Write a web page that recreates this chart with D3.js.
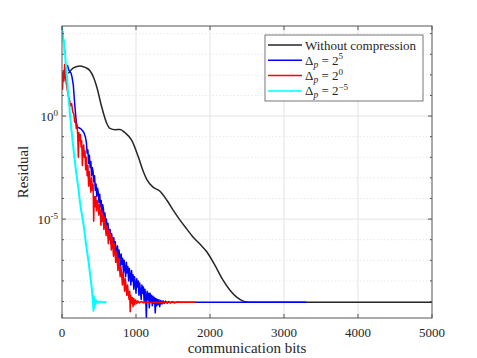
<!DOCTYPE html>
<html>
<head>
<meta charset="utf-8">
<script src="https://cdn.jsdelivr.net/npm/d3@7"></script>
<style>
  body { margin: 0; background: #fff; }
  text { font-family: "Liberation Serif", "DejaVu Serif", serif; fill: #262626; }
</style>
</head>
<body>
<script>
// data: communication bits and log10(residual)
var blackX = [85, 160, 243, 320, 378, 430, 469, 536, 604, 648, 720, 784, 850, 941, 1031, 1100, 1149, 1230, 1324, 1420, 1500, 1595, 1690, 1770, 1860, 1959, 2060, 2176, 2270, 2365, 2450, 2541, 2650, 5000];
var blackLog = [2.07, 2.35, 2.43, 2.35, 2.2, 1.85, 1.42, 0.45, -0.35, -0.6, -0.66, -0.65, -0.8, -1.17, -1.98, -2.7, -3.1, -3.45, -3.65, -4.1, -4.55, -5.05, -5.5, -5.87, -6.2, -6.6, -7.2, -7.96, -8.45, -8.8, -8.98, -9.03, -9.04, -9.04];

var blueX = [0, 15, 30, 45, 60, 75, 90, 105, 120, 135, 153, 165, 176, 188, 198, 215, 235, 255, 275, 295, 315, 330, 340, 350, 360, 370, 380, 390, 400, 410, 420, 430, 440, 450, 460, 470, 480, 490, 500, 510, 520, 530, 540, 550, 560, 570, 580, 590, 600, 610, 620, 630, 640, 650, 660, 670, 680, 690, 700, 710, 720, 730, 740, 750, 760, 770, 780, 790, 800, 810, 820, 830, 840, 850, 860, 870, 880, 890, 900, 910, 920, 930, 940, 950, 960, 970, 980, 990, 1000, 1010, 1020, 1030, 1040, 1050, 1060, 1070, 1080, 1090, 1100, 1110, 1120, 1130, 1140, 1150, 1160, 1170, 1180, 1190, 1200, 1210, 1220, 1230, 1240, 1250, 1260, 1270, 1280, 1290, 1300, 1310, 1320, 1335, 1350, 1365, 1380, 1400, 1420, 1440, 1465, 1490, 1520, 1560, 1600, 3300];
var blueLog = [1.95, 2.1, 2.0, 2.2, 2.4, 2.45, 2.25, 2.15, 2.1, 1.9, 1.5, 0.9, 0.4, -0.1, -0.45, -0.55, -0.58, -0.62, -0.7, -0.8, -1.0, -1.3, -1.8, -1.65, -2.3, -1.9, -2.5, -2.2, -2.9, -2.5, -2.7, -3.2, -2.9, -3.6, -3.3, -3.9, -3.5, -3.7, -4.2, -3.8, -4.4, -4.1, -4.7, -4.3, -4.5, -5.1, -4.7, -5.3, -5.0, -5.6, -5.2, -5.5, -5.9, -5.5, -6.2, -5.7, -6.0, -6.4, -5.9, -6.6, -6.1, -6.5, -6.9, -6.3, -7.0, -6.5, -6.8, -7.3, -6.7, -7.2, -6.9, -7.6, -7.0, -7.4, -7.8, -7.1, -7.6, -7.3, -8.0, -7.4, -7.7, -8.2, -7.5, -8.0, -7.7, -8.4, -7.8, -8.1, -8.6, -7.9, -8.3, -8.0, -8.7, -8.1, -8.5, -8.9, -8.2, -8.6, -8.3, -9.0, -8.4, -8.7, -9.8, -8.5, -8.9, -8.6, -9.3, -8.6, -9.0, -8.7, -9.2, -8.75, -9.1, -8.8, -9.55, -8.85, -9.2, -8.9, -9.15, -8.92, -9.25, -8.95, -9.12, -8.96, -9.1, -8.98, -9.08, -9.0, -9.07, -9.01, -9.06, -9.02, -9.04, -9.04];

var redX = [0, 8, 16, 26, 36, 46, 58, 70, 85, 100, 115, 130, 145, 160, 172, 182, 192, 202, 212, 221, 228, 238, 248, 258, 266, 275, 284, 293, 302, 311, 320, 330, 340, 350, 360, 370, 380, 390, 400, 410, 420, 428, 436, 446, 456, 466, 476, 486, 496, 506, 516, 526, 536, 546, 556, 566, 576, 586, 596, 606, 616, 626, 636, 646, 656, 666, 676, 686, 696, 706, 716, 726, 736, 746, 756, 766, 776, 786, 796, 806, 816, 826, 836, 846, 856, 866, 876, 886, 896, 906, 915, 922, 930, 940, 950, 960, 970, 982, 995, 1010, 1025, 1045, 1070, 1100, 1140, 1200, 1800];
var redLog = [2.0, 1.3, 2.2, 1.7, 2.5, 1.9, 1.6, 1.3, 1.0, 0.8, 0.5, 0.6, 0.2, 0.1, -0.3, -0.1, -0.6, -0.4, -0.9, -2.0, -0.8, -1.2, -0.9, -1.5, -1.2, -2.4, -1.6, -1.4, -2.0, -1.7, -2.6, -2.0, -2.9, -2.4, -3.4, -2.7, -3.2, -3.7, -3.0, -3.6, -3.3, -5.1, -3.9, -4.4, -3.9, -4.6, -4.1, -4.3, -4.8, -4.3, -4.6, -5.3, -4.6, -5.1, -4.8, -5.5, -4.9, -5.3, -5.8, -5.3, -5.6, -6.2, -5.5, -6.0, -5.7, -6.5, -5.9, -6.3, -6.8, -6.2, -6.6, -7.1, -6.6, -7.0, -7.5, -6.9, -7.3, -7.8, -7.3, -7.7, -8.2, -7.6, -8.0, -8.5, -7.9, -8.3, -8.7, -8.2, -8.6, -8.9, -8.5, -9.5, -8.7, -9.1, -8.8, -9.25, -8.85, -9.15, -8.92, -9.1, -8.97, -9.07, -9.0, -9.06, -9.02, -9.05, -9.04];

var cyanX = [0, 5, 10, 18, 25, 33, 40, 48, 56, 63, 70, 78, 85, 93, 100, 108, 116, 125, 135, 145, 153, 163, 175, 190, 205, 221, 240, 260, 280, 300, 320, 340, 360, 380, 401, 413, 420, 425, 430, 436, 443, 452, 465, 485, 510, 550, 600];
var cyanLog = [4.4, 3.8, 4.1, 3.6, 3.7, 3.1, 3.2, 2.6, 2.5, 2.0, 1.9, 1.3, 1.1, 0.6, 0.5, 0.0, -0.2, -0.6, -0.9, -1.3, -1.5, -1.9, -2.2, -2.7, -3.1, -3.5, -4.1, -4.6, -5.0, -5.5, -6.1, -6.6, -7.1, -7.7, -8.3, -8.8, -9.1, -9.45, -8.75, -9.3, -8.9, -9.15, -8.95, -9.06, -9.0, -9.03, -9.02];

var seriesNames = ["Without compression", "Δp = 2^5", "Δp = 2^0", "Δp = 2^-5"];
var legendExp = [null, "5", "0", "\u22125"];
var colors = ["#262626", "#0000ff", "#ff0000", "#00ffff"];
var xTicks = [0, 1000, 2000, 3000, 4000, 5000];
var yMajor = [0, -5];

//************************************************************
// layout
//************************************************************
const W = 477, H = 358;
const pLeft = 62, pRight = 432, pTop = 26, pBottom = 318;

const xScale = d3.scaleLinear().domain([0, 5000]).range([pLeft, pRight]);
const yScale = d3.scaleLog().domain([Math.pow(10, -9.8), Math.pow(10, 4.37)]).range([pBottom, pTop]);

const svg = d3.select("body").append("svg")
  .attr("width", W)
  .attr("height", H);

svg.append("defs").append("clipPath")
  .attr("id", "clip")
  .append("rect")
  .attr("x", pLeft).attr("y", pTop)
  .attr("width", pRight - pLeft).attr("height", pBottom - pTop);

// grid
var decades = d3.range(-9, 5);
svg.append("g").selectAll("line")
  .data(decades.filter(function (d) { return yMajor.indexOf(d) < 0; }))
  .enter().append("line")
  .attr("x1", pLeft).attr("x2", pRight)
  .attr("y1", function (d) { return yScale(Math.pow(10, d)); })
  .attr("y2", function (d) { return yScale(Math.pow(10, d)); })
  .attr("stroke", "#dedede").attr("stroke-width", 0.7)
  .attr("stroke-dasharray", "1.5,2");

svg.append("g").selectAll("line")
  .data(yMajor)
  .enter().append("line")
  .attr("x1", pLeft).attr("x2", pRight)
  .attr("y1", function (d) { return yScale(Math.pow(10, d)); })
  .attr("y2", function (d) { return yScale(Math.pow(10, d)); })
  .attr("stroke", "#e3e3e3").attr("stroke-width", 1);

svg.append("g").selectAll("line")
  .data(xTicks.slice(1, -1))
  .enter().append("line")
  .attr("x1", function (d) { return xScale(d); })
  .attr("x2", function (d) { return xScale(d); })
  .attr("y1", pTop).attr("y2", pBottom)
  .attr("stroke", "#e3e3e3").attr("stroke-width", 1);

// series
const line = d3.line()
  .x(function (d) { return xScale(d[0]); })
  .y(function (d) { return yScale(Math.pow(10, d[1])); });

const smoothLine = d3.line()
  .curve(d3.curveMonotoneX)
  .x(function (d) { return xScale(d[0]); })
  .y(function (d) { return yScale(Math.pow(10, d[1])); });

var allSeries = [
  d3.zip(blackX, blackLog),
  d3.zip(blueX, blueLog),
  d3.zip(redX, redLog),
  d3.zip(cyanX, cyanLog)
];

svg.append("g")
  .attr("clip-path", "url(#clip)")
  .selectAll("path")
  .data(allSeries)
  .enter().append("path")
  .attr("d", function (d, i) { return i == 0 ? smoothLine(d) : line(d); })
  .attr("fill", "none")
  .attr("stroke", function (d, i) { return colors[i]; })
  .attr("stroke-width", function (d, i) { return i == 3 ? 2 : 1.5; })
  .attr("stroke-linejoin", "round");

// box + ticks
const axisColor = "#555";
svg.append("rect")
  .attr("x", pLeft).attr("y", pTop)
  .attr("width", pRight - pLeft).attr("height", pBottom - pTop)
  .attr("fill", "none").attr("stroke", axisColor).attr("stroke-width", 1);

var tk = svg.append("g").attr("stroke", axisColor).attr("stroke-width", 1);
xTicks.forEach(function (t) {
  var x = xScale(t);
  tk.append("line").attr("x1", x).attr("x2", x).attr("y1", pBottom).attr("y2", pBottom - 4);
  tk.append("line").attr("x1", x).attr("x2", x).attr("y1", pTop).attr("y2", pTop + 4);
});
decades.forEach(function (d) {
  var y = yScale(Math.pow(10, d));
  var len = yMajor.indexOf(d) >= 0 ? 4 : 2;
  tk.append("line").attr("x1", pLeft).attr("x2", pLeft + len).attr("y1", y).attr("y2", y);
  tk.append("line").attr("x1", pRight).attr("x2", pRight - len).attr("y1", y).attr("y2", y);
});

// tick labels
svg.append("g").selectAll("text")
  .data(xTicks)
  .enter().append("text")
  .attr("x", function (d) { return xScale(d); })
  .attr("y", pBottom + 18.5)
  .attr("text-anchor", "middle")
  .attr("font-size", 13)
  .text(function (d) { return d; });

var yl = svg.append("g").selectAll("text")
  .data(yMajor)
  .enter().append("text")
  .attr("x", pLeft - 4)
  .attr("y", function (d) { return yScale(Math.pow(10, d)) + 5; })
  .attr("text-anchor", "end")
  .attr("font-size", 13);
yl.append("tspan").text("10");
yl.append("tspan")
  .attr("font-size", 9)
  .attr("dy", -5.5)
  .text(function (d) { return d < 0 ? "-" + (-d) : d; });

// axis labels
svg.append("text")
  .attr("x", (pLeft + pRight) / 2)
  .attr("y", 353)
  .attr("text-anchor", "middle")
  .attr("font-size", 15)
  .text("communication bits");

svg.append("text")
  .attr("transform", "translate(28," + ((pTop + pBottom) / 2) + ") rotate(-90)")
  .attr("text-anchor", "middle")
  .attr("font-size", 15)
  .text("Residual");

// legend
const lg = svg.append("g");
lg.append("rect")
  .attr("x", 265).attr("y", 35)
  .attr("width", 158).attr("height", 66)
  .attr("fill", "#fff").attr("stroke", axisColor).attr("stroke-width", 0.8);

seriesNames.forEach(function (name, i) {
  var y = 45 + i * 15.3;
  lg.append("line")
    .attr("x1", 268).attr("x2", 302)
    .attr("y1", y).attr("y2", y)
    .attr("stroke", colors[i]).attr("stroke-width", 1.5);
  var t = lg.append("text")
    .attr("x", 305).attr("y", y + 4.5)
    .attr("font-size", 13);
  if (legendExp[i] === null) {
    t.text(name);
  } else {
    t.append("tspan").text("\u0394");
    t.append("tspan").attr("font-style", "italic").attr("font-size", 9.5).attr("dy", 3).text("p");
    t.append("tspan").attr("dy", -3).text(" = 2");
    t.append("tspan").attr("font-size", 9).attr("dy", -5.5).text(legendExp[i]);
  }
});
</script>
</body>
</html>
